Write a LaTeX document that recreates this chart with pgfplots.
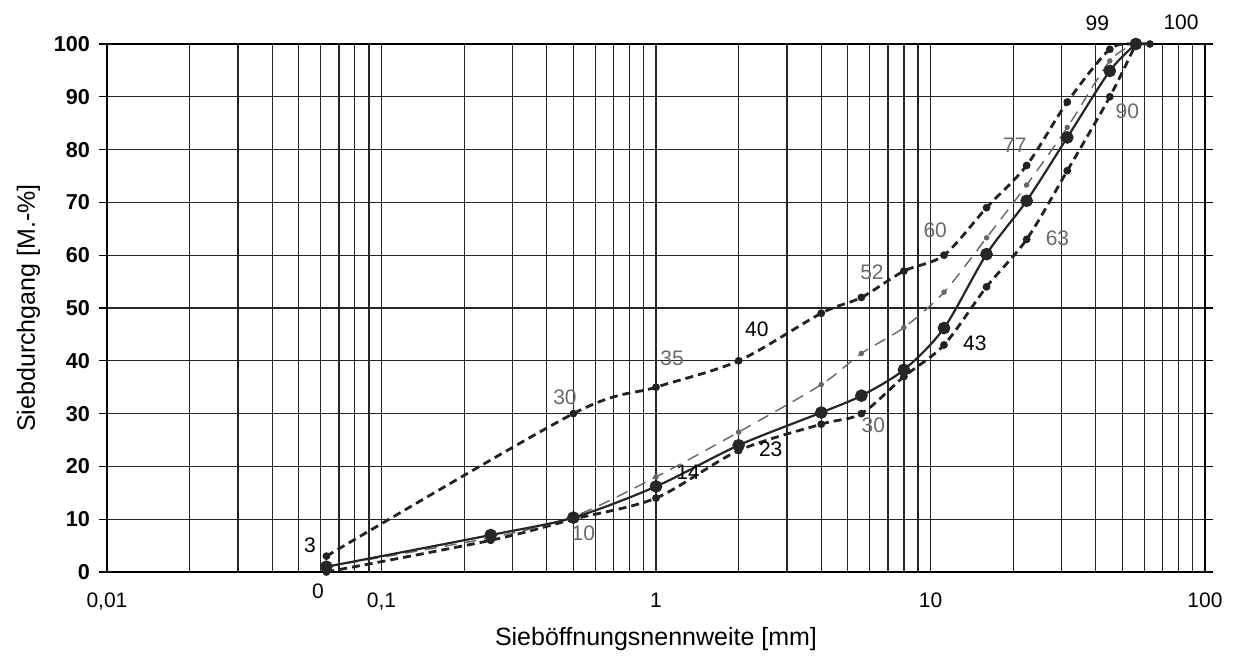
\documentclass[border=0pt]{standalone}
\usepackage{pgfplots}
\pgfplotsset{compat=1.18}
\usepackage{fontspec}
\setmainfont{Liberation Sans}
\definecolor{lab}{HTML}{6A6A6A}
\definecolor{dk}{HTML}{222222}
\begin{document}
\begin{tikzpicture}
\begin{axis}[
  scale only axis, width=549pt, height=264pt,
  xmode=log, xmin=0.01, xmax=100, ymin=0, ymax=100,
  xtick={0.01,0.1,1,10,100},
  xticklabels={{0,01},{0,1},1,10,100},
  minor xtick={0.02,0.03,0.04,0.05,0.06,0.07,0.08,0.09,0.2,0.3,0.4,0.5,0.6,0.7,0.8,0.9,2,3,4,5,6,7,8,9,20,30,40,50,60,70,80,90},
  ytick={0,10,...,100},
  xmajorgrids, xminorgrids, ymajorgrids,
  grid style={black!85, line width=0.6pt},
  minor grid style={black!85, line width=0.6pt},
  axis line style={black, line width=0.7pt},
  tick align=outside,
  ytick style={black, line width=0.6pt},
  major tick length=4pt,
  xtick style={draw=none}, minor tick length=0pt,
  /pgf/number format/assume math mode=true,
  yticklabel style={font=\fontsize{10.8}{12}\selectfont\bfseries, xshift=-1pt},
  xticklabel style={font=\fontsize{10.5}{12}\selectfont, yshift=-3pt},
  xlabel={Sieböffnungsnennweite [mm]},
  ylabel={Siebdurchgang [M.-\%]},
  label style={font=\fontsize{12.5}{14}\selectfont},
  xlabel style={yshift=-1.5pt},
  ylabel style={yshift=0pt},
  clip=false,
]
% upper limit
\addplot[dk, line width=1.4pt, dash pattern=on 4pt off 2.5pt, smooth, tension=0.5,
  mark=*, mark size=1.2pt, mark options={solid}] coordinates {
(0.063,3) (0.5,30) (1,35) (2,40) (4,49) (5.6,52) (8,57) (11.2,60) (16,69) (22.4,77) (31.5,89) (45,99) (56,100) (63,100)};
% lower limit
\addplot[dk, line width=1.4pt, dash pattern=on 4pt off 2.5pt, smooth, tension=0.5,
  mark=*, mark size=1.2pt, mark options={solid}] coordinates {
(0.063,0) (0.25,6) (0.5,10) (1,14) (2,23) (4,28) (5.6,30) (8,37) (11.2,43) (16,54) (22.4,63) (31.5,76) (45,90) (56,100)};
% middle thin dashed
\addplot[black!60, line width=0.7pt, dash pattern=on 6pt off 4pt, smooth, tension=0.5,
  mark=*, mark size=1pt, mark options={solid}] coordinates {
(0.063,1) (0.25,6.5) (0.5,10.5) (1,18) (2,26.5) (4,35.5) (5.6,41.4) (8,46.3) (11.2,53) (16,63.3) (22.4,73.3) (31.5,84.2) (45,96.8) (56,100)};
% actual grading
\addplot[black!85, line width=1.1pt, smooth, tension=0.5,
  mark=*, mark size=2.6pt] coordinates {
(0.063,1) (0.25,7) (0.5,10.3) (1,16.2) (2,24) (4,30.2) (5.6,33.4) (8,38.3) (11.2,46.2) (16,60.2) (22.4,70.3) (31.5,82.3) (45,94.9) (56,100)};
% labels
\begin{scope}[every node/.style={font=\fontsize{10.5}{12}\selectfont, inner sep=0pt}]
\node[text=black] at (axis cs:0.0549,5.1) {3};
\node[text=black] at (axis cs:0.0587,-3.6) {0};
\node[text=lab] at (axis cs:0.466,33.1) {30};
\node[text=lab] at (axis cs:1.144,40.5) {35};
\node[text=black] at (axis cs:2.33,46) {40};
\node[text=lab] at (axis cs:6.12,56.8) {52};
\node[text=lab] at (axis cs:10.4,64.8) {60};
\node[text=lab] at (axis cs:20.3,80.9) {77};
\node[text=black] at (axis cs:40.5,103.9) {99};
\node[text=black] at (axis cs:81.8,104.1) {100};
\node[text=lab] at (axis cs:0.5435,7.3) {10};
\node[text=black] at (axis cs:1.308,18.9) {14};
\node[text=black] at (axis cs:2.617,23.2) {23};
\node[text=lab] at (axis cs:6.19,27.7) {30};
\node[text=black] at (axis cs:14.5,43.3) {43};
\node[text=lab] at (axis cs:29.0,63.2) {63};
\node[text=lab] at (axis cs:52.1,87.3) {90};
\end{scope}
\end{axis}
\path (current axis.south west) ++(-53.5pt,-42.5pt) coordinate (bbA);
\path (current axis.north east) ++(14.5pt,22pt) coordinate (bbB);
\path[use as bounding box] (bbA) rectangle (bbB);
\end{tikzpicture}
\end{document}
